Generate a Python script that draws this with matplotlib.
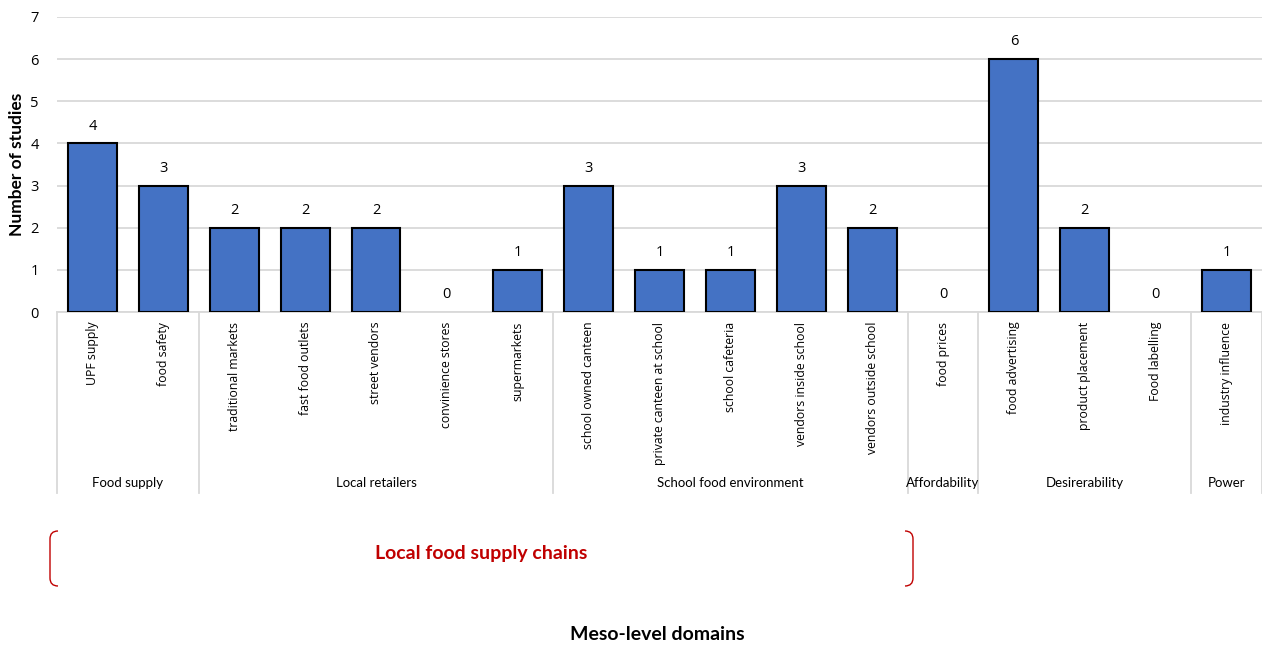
import numpy as np
import matplotlib.pyplot as plt
from matplotlib.path import Path
from matplotlib.patches import PathPatch
from matplotlib.transforms import blended_transform_factory

categories = ["UPF supply", "food safety", "traditional markets", "fast food outlets",
              "street vendors", "convinience stores", "supermarkets",
              "school owned canteen", "private canteen at school", "school cafeteria",
              "vendors inside school", "vendors outside school", "food prices",
              "food advertising", "product placement", "Food labelling",
              "industry influence"]
studies = [4, 3, 2, 2, 2, 0, 1, 3, 1, 1, 3, 2, 0, 6, 2, 0, 1]

groups = ["Food supply", "Local retailers", "School food environment",
          "Affordability", "Desirerability", "Power"]
group_sizes = [2, 5, 5, 1, 3, 1]

W, H = 1262, 647
fig = plt.figure(figsize=(W / 100, H / 100), dpi=100)
ax = fig.add_axes([57 / W, 1 - 312 / H, (1262 - 57) / W, (312 - 17) / H])

grid_col = "#D9D9D9"
x = np.arange(len(categories))
# empty categories get no outline
edge_w = [1.5 if v > 0 else 0 for v in studies]
ax.bar(x, studies, width=0.69, color="#4472C4", edgecolor="black",
       linewidth=edge_w, zorder=3)
for xi, v in zip(x, studies):
    ax.annotate(str(v), (xi, v), xytext=(0, 7), textcoords="offset points",
                ha="center", va="bottom", fontsize=10.5, family="Open Sans")

ax.set_xlim(-0.5, len(categories) - 0.5)
ax.set_ylim(0, 7)
ax.set_yticks(range(8))
ax.yaxis.grid(True, color=grid_col, linewidth=1.3, zorder=0)
ax.set_axisbelow(True)
for s in ["top", "right", "left"]:
    ax.spines[s].set_visible(False)
ax.spines["bottom"].set_color(grid_col)
ax.spines["bottom"].set_linewidth(1.3)
ax.tick_params(axis="y", length=0, pad=13, labelsize=10.5)
for lbl in ax.get_yticklabels():
    lbl.set_family("Open Sans")

ax.set_xticks(x)
ax.set_xticklabels(categories, rotation=90, va="top", ha="center",
                   fontsize=8.8, family="Open Sans")
ax.tick_params(axis="x", length=0, pad=7)

ax.set_ylabel("Number of studies", fontsize=12.5, fontweight="bold",
              family="Lato", labelpad=4)

# group separators and labels below the category labels
trans = blended_transform_factory(ax.transData, ax.transAxes)
edges = np.concatenate([[0], np.cumsum(group_sizes)]) - 0.5
for e in edges:
    ax.plot([e, e], [0, -0.615], transform=trans, color=grid_col,
            linewidth=1.3, clip_on=False)
for g, a, b in zip(groups, edges[:-1], edges[1:]):
    ax.text((a + b) / 2, -0.58, g, transform=trans, ha="center", va="center",
            fontsize=9.5, family="Lato")

# red bracket spanning the supply-chain domains
def px(xp, yp):
    return xp / W, 1 - yp / H

r = 8
left = Path([px(50 + r, 531), px(50, 531), px(50, 531 + r), px(50, 586 - r),
             px(50, 586), px(50 + r, 586)],
            [Path.MOVETO, Path.CURVE3, Path.CURVE3, Path.LINETO, Path.CURVE3, Path.CURVE3])
right = Path([px(913 - r, 531), px(913, 531), px(913, 531 + r), px(913, 586 - r),
              px(913, 586), px(913 - r, 586)],
             [Path.MOVETO, Path.CURVE3, Path.CURVE3, Path.LINETO, Path.CURVE3, Path.CURVE3])
for p in (left, right):
    fig.add_artist(PathPatch(p, facecolor="none", edgecolor="#C00000",
                             linewidth=1.0, transform=fig.transFigure))
fig.text(*px(481, 554), "Local food supply chains", color="#C00000",
         fontsize=14, fontweight="bold", family="Lato", ha="center", va="center")

fig.text(*px(657, 635), "Meso-level domains", fontsize=14, fontweight="bold",
         family="Lato", ha="center", va="center")

fig.savefig("out.png", dpi=100)
